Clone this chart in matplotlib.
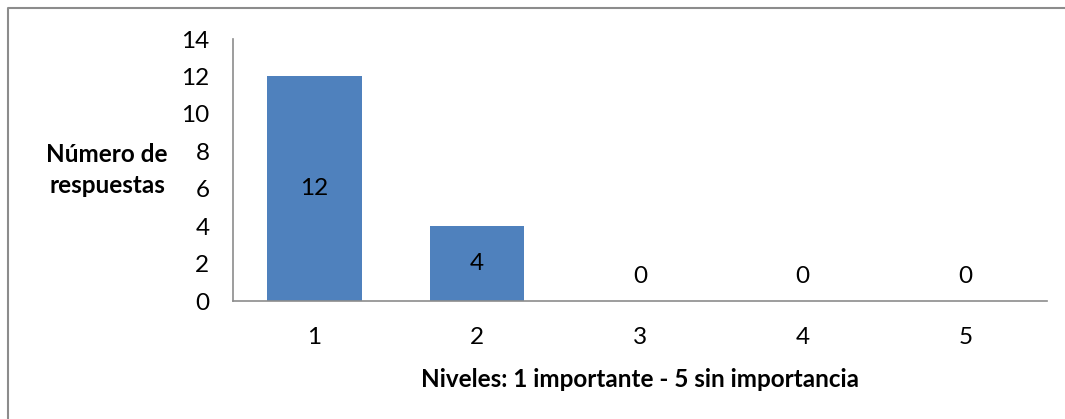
import matplotlib.pyplot as plt
from matplotlib.lines import Line2D

niveles = ['1', '2', '3', '4', '5']
respuestas = [12, 4, 0, 0, 0]
yticks = [0, 2, 4, 6, 8, 10, 12, 14]

plt.rcParams['font.family'] = ['Lato', 'DejaVu Sans']

fig = plt.figure(figsize=(10.65, 4.19), dpi=100)
ax = fig.add_axes([233/1065, 118/419, 814/1065, 262/419])

pos = range(len(niveles))
bars = ax.bar(pos, respuestas, width=0.58, color='#4F81BD')
for p, v in zip(pos, respuestas):
    y = v / 2 if v > 0 else 1.3
    ax.text(p, y, str(v), ha='center', va='center', fontsize=17.5, color='black')

ax.set_xlim(-0.5, len(niveles) - 0.5)
ax.set_ylim(0, 14)
ax.set_xticks(list(pos))
ax.set_xticklabels(niveles)
ax.set_yticks(yticks)
ax.tick_params(length=0, labelsize=17.5)
ax.tick_params(axis='y', pad=17)
ax.tick_params(axis='x', pad=19)
for s in ['top', 'right']:
    ax.spines[s].set_visible(False)
for s in ['left', 'bottom']:
    ax.spines[s].set_color('#8c8c8c')
    ax.spines[s].set_linewidth(1.2)

ax.set_xlabel('Niveles: 1 importante - 5 sin importancia', fontsize=17.5,
              fontweight='bold', labelpad=14)
fig.text(107/1065, 1 - 170/419, 'Número de\nrespuestas', ha='center', va='center',
         fontsize=17.5, fontweight='bold', linespacing=1.45)

# outer frame (only top and left edges are visible)
fig.lines.append(Line2D([8/1065, 8/1065, 1], [0, 1 - 8.5/419, 1 - 8.5/419],
                        transform=fig.transFigure, color='#8c8c8c', linewidth=1.5))

fig.savefig('out.png', dpi=100)
